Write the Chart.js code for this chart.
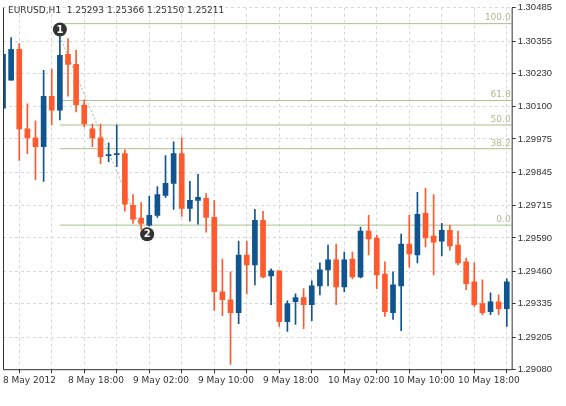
<!DOCTYPE html>
<html>
<head>
<meta charset="utf-8">
<script src="https://cdn.jsdelivr.net/npm/chart.js@4"></script>
<style>
  body { margin: 0; background: #fff; }
  #wrap { width: 566px; height: 406px; position: relative; }
</style>
</head>
<body>
<div id="wrap"><canvas id="chart"></canvas></div>
<script>
// EURUSD H1 candles, 8 May 10:00 onwards
const opens = [1.30095,1.30203,1.30323,1.30014,1.29979,1.29945,1.30141,1.30087,1.30304,1.30265,
  1.30107,1.30014,1.29979,1.29910,1.29914,1.29918,1.29717,1.29667,1.29640,1.29678,
  1.29755,1.29802,1.29918,1.29705,1.29736,1.29744,1.29670,1.29381,1.29350,1.29300,
  1.29524,1.29485,1.29659,1.29443,1.29462,1.29265,1.29342,1.29358,1.29331,1.29404,
  1.29466,1.29505,1.29400,1.29508,1.29439,1.29617,1.29590,1.29450,1.29300,1.29404,
  1.29566,1.29524,1.29686,1.29597,1.29578,1.29620,1.29562,1.29497,1.29420,1.29335,
  1.29304,1.29342,1.29315];
const highs = [1.30315,1.30369,1.30346,1.30111,1.30045,1.30242,1.30246,1.30373,1.30365,1.30319,
  1.30126,1.30033,1.30033,1.29960,1.30029,1.29933,1.29759,1.29728,1.29752,1.29790,
  1.29910,1.29964,1.29979,1.29810,1.29837,1.29763,1.29736,1.29508,1.29458,1.29578,
  1.29578,1.29701,1.29694,1.29470,1.29462,1.29346,1.29373,1.29393,1.29423,1.29493,
  1.29562,1.29566,1.29535,1.29535,1.29632,1.29678,1.29601,1.29497,1.29458,1.29605,
  1.29678,1.29767,1.29783,1.29759,1.29647,1.29640,1.29617,1.29512,1.29493,1.29427,
  1.29377,1.29369,1.29431];
const lows = [1.30087,1.30203,1.29891,1.29918,1.29817,1.29810,1.30029,1.30049,1.30141,1.30080,
  1.30022,1.29945,1.29879,1.29887,1.29867,1.29694,1.29647,1.29624,1.29636,1.29670,
  1.29748,1.29701,1.29674,1.29655,1.29644,1.29613,1.29308,1.29288,1.29099,1.29257,
  1.29373,1.29408,1.29435,1.29331,1.29246,1.29227,1.29254,1.29238,1.29269,1.29369,
  1.29404,1.29331,1.29381,1.29431,1.29435,1.29524,1.29393,1.29285,1.29273,1.29230,
  1.29477,1.29493,1.29555,1.29446,1.29520,1.29543,1.29485,1.29389,1.29323,1.29292,
  1.29292,1.29292,1.29246];
const closes = [1.30304,1.30323,1.30014,1.29979,1.29945,1.30141,1.30087,1.30300,1.30265,1.30107,
  1.30033,1.29979,1.29906,1.29914,1.29918,1.29721,1.29663,1.29647,1.29678,1.29759,
  1.29802,1.29918,1.29705,1.29736,1.29748,1.29670,1.29381,1.29350,1.29300,1.29524,
  1.29485,1.29659,1.29439,1.29462,1.29265,1.29335,1.29358,1.29331,1.29404,1.29466,
  1.29505,1.29400,1.29505,1.29439,1.29617,1.29586,1.29446,1.29304,1.29408,1.29566,
  1.29528,1.29682,1.29590,1.29574,1.29620,1.29559,1.29493,1.29412,1.29331,1.29300,
  1.29342,1.29315,1.29420];

const timeLabels = ["8 May 2012", "8 May 18:00", "9 May 02:00", "9 May 10:00",
  "9 May 18:00", "10 May 02:00", "10 May 10:00", "10 May 18:00"];
const priceTicks = [1.30485,1.30355,1.30230,1.30100,1.29975,1.29845,1.29715,1.29590,1.29460,1.29335,1.29205,1.29080];

const fibNames = ["100.0", "61.8", "50.0", "38.2", "0.0"];
const fibPrices = [1.30423, 1.30124, 1.30029, 1.29937, 1.29640];
const fibStart = 7;
const trendFrom = { x: 7, y: 1.30373 };
const trendTo = { x: 17, y: 1.29624 };

const UP = "#10558f", DOWN = "#ff5a2d", FIB = "#a9bf8c";
const X_MAX = 62.6;

const isUp = i => closes[i] >= opens[i];
const wickData = opens.map((o, i) => ({ x: i, y: [lows[i], highs[i]] }));
const bodyData = opens.map((o, i) => ({ x: i, y: [o, closes[i]] }));

const datasets = [
  {
    type: "bar", data: wickData, barThickness: 1, grouped: false, order: 2,
    backgroundColor: ctx => isUp(ctx.dataIndex) ? UP : DOWN
  },
  {
    type: "bar", data: bodyData, barThickness: 5, grouped: false, minBarLength: 1, order: 1,
    backgroundColor: ctx => isUp(ctx.dataIndex) ? UP : DOWN
  },
  {
    type: "line", data: [trendFrom, trendTo], borderColor: FIB, borderWidth: 1,
    borderDash: [2, 2], pointRadius: 0, order: 3
  }
];
fibPrices.forEach(p => {
  datasets.push({
    type: "line", data: [{ x: fibStart, y: p }, { x: X_MAX, y: p }],
    borderColor: FIB, borderWidth: 1, pointRadius: 0, order: 4
  });
});

const overlay = {
  id: "overlay",
  afterDraw(chart) {
    const c = chart.ctx, xs = chart.scales.x, ys = chart.scales.y, a = chart.chartArea;
    c.save();
    // solid axis frame
    c.strokeStyle = "#333";
    c.lineWidth = 1;
    c.beginPath();
    c.moveTo(a.left + 0.5, a.top);
    c.lineTo(a.left + 0.5, a.bottom + 0.5);
    c.lineTo(a.right + 0.5, a.bottom + 0.5);
    c.lineTo(a.right + 0.5, a.top);
    c.stroke();
    // fib level labels
    c.font = "9px 'DejaVu Sans'";
    c.fillStyle = FIB;
    c.textAlign = "right";
    c.textBaseline = "bottom";
    fibNames.forEach((n, i) => c.fillText(n, a.right - 1, ys.getPixelForValue(fibPrices[i]) - 1));
    // point markers
    const marks = [
      { t: "1", x: xs.getPixelForValue(trendFrom.x), y: ys.getPixelForValue(trendFrom.y) - 7 },
      { t: "2", x: xs.getPixelForValue(trendTo.x) + 6, y: ys.getPixelForValue(trendTo.y) + 5 }
    ];
    marks.forEach(m => {
      c.beginPath();
      c.arc(m.x, m.y, 7, 0, Math.PI * 2);
      c.fillStyle = "#333";
      c.fill();
      c.fillStyle = "#fff";
      c.font = "bold 10px 'DejaVu Sans'";
      c.textAlign = "center";
      c.textBaseline = "middle";
      c.fillText(m.t, m.x, m.y + 0.5);
    });
    // title
    c.font = "9px 'DejaVu Sans'";
    c.fillStyle = "#333";
    c.textAlign = "left";
    c.textBaseline = "middle";
    c.fillText("EURUSD,H1  1.25293 1.25366 1.25150 1.25211", 8, 11);
    c.restore();
  }
};

new Chart(document.getElementById("chart"), {
  data: { datasets: datasets },
  options: {
    responsive: true,
    maintainAspectRatio: false,
    animation: false,
    layout: { padding: { left: 3, top: 2, right: 12, bottom: 18 } },
    plugins: { legend: { display: false }, tooltip: { enabled: false } },
    scales: {
      x: {
        type: "linear", min: 0, max: X_MAX, offset: false,
        afterBuildTicks: s => { s.ticks = []; for (let v = 0; v <= 62; v += 4) s.ticks.push({ value: v }); },
        grid: { color: "#d8d8d8", tickColor: "#333", tickLength: 4, drawTicks: true,
                lineWidth: ctx => ctx.tick && ctx.tick.value === 0 ? 0 : 1 },
        border: { display: false, dash: [3, 3] },
        ticks: {
          autoSkip: false, maxRotation: 0, align: "start", padding: 2,
          font: { family: "'DejaVu Sans'", size: 9 }, color: "#333",
          callback: v => v % 8 === 0 ? timeLabels[v / 8] : ""
        }
      },
      y: {
        position: "right", min: 1.29080, max: 1.30485,
        afterBuildTicks: s => { s.ticks = priceTicks.map(v => ({ value: v })); },
        grid: { color: "#d8d8d8", tickColor: "#333", tickLength: 4 },
        border: { display: false, dash: [3, 3] },
        ticks: {
          padding: 2, font: { family: "'Liberation Sans'", size: 9.5 }, color: "#333",
          callback: v => v.toFixed(5)
        }
      }
    }
  },
  plugins: [overlay]
});
</script>
</body>
</html>
